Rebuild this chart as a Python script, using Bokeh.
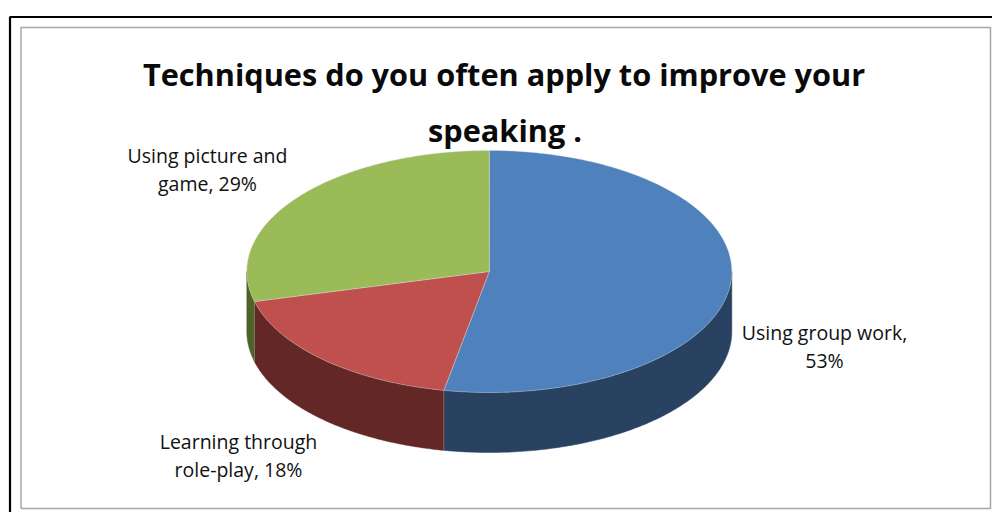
import numpy as np
from bokeh.plotting import figure
from bokeh.models import ColumnDataSource, Range1d
from bokeh.core.properties import value
from bokeh.embed import file_html
from bokeh.resources import INLINE

title_lines = ["Techniques do you often apply to improve your", "speaking ."]
categories = ["Using group work", "Learning through role-play", "Using picture and game"]
percents = [53, 18, 29]
top_colors = ["#4F81BD", "#C0504D", "#9BBB59"]
side_colors = ["#2A4261", "#632826", "#4F6228"]
label_lines = [["Using group work,", "53%"], ["Learning through", "role-play, 18%"], ["Using picture and", "game, 29%"]]

CX, CY, RX, RY, DEPTH = 488.8, 271, 242.5, 121, 60
label_pos = [(824, 332), (238, 441), (207, 155)]
LINE_GAP = 28

W, H = 992, 512
p = figure(width=W, height=H, x_range=Range1d(0, W), y_range=Range1d(H, 0),
           output_backend="svg", toolbar_location=None, min_border=0)
p.axis.visible = False
p.grid.visible = False
p.outline_line_color = None
p.background_fill_color = "white"
p.border_fill_color = "white"

# frames
p.line([9.5, 9.5, 992], [512, 16.5, 16.5], line_color="black", line_width=2.2)
p.line([20.5, 20.5, 990, 990, 20.5], [508, 27, 27, 508, 508], line_color="#A6A6A6", line_width=1.5)

def ex(t):
    return CX + RX * np.sin(t)
def ey(t):
    return CY - RY * np.cos(t)

edges = np.cumsum([0] + percents) / sum(percents) * 2 * np.pi

# side walls: only the front half of the rim (90 to 270 degrees) is visible
sx, sy, sc = [], [], []
for a, b, c in zip(edges[:-1], edges[1:], side_colors):
    lo, hi = max(a, np.pi / 2), min(b, 3 * np.pi / 2)
    if hi <= lo:
        continue
    t = np.linspace(lo, hi, 120)
    sx.append(np.r_[ex(t), ex(t)[::-1]])
    sy.append(np.r_[ey(t), ey(t)[::-1] + DEPTH])
    sc.append(c)
p.patches(sx, sy, fill_color=sc, line_color=sc, line_width=0.5)

# seam between side walls
for e in edges[1:-1]:
    if np.pi / 2 < e < 3 * np.pi / 2:
        p.line([ex(e), ex(e)], [ey(e), ey(e) + DEPTH], line_color="#A08A88", line_width=0.8, line_alpha=0.7)

# top faces
tx, ty = [], []
for a, b in zip(edges[:-1], edges[1:]):
    t = np.linspace(a, b, 240)
    tx.append(np.r_[CX, ex(t)])
    ty.append(np.r_[CY, ey(t)])
p.patches(tx, ty, fill_color=top_colors, line_color="#D8DCE6", line_width=0.6, line_alpha=0.6)

title_src = ColumnDataSource(dict(x=[503.5, 504.5], y=[73, 129], text=title_lines))
p.text("x", "y", text="text", source=title_src, text_font=value("Open Sans"), text_font_style="bold",
       text_font_size="30.7px", text_color="#0A0A0A", text_align="center", text_baseline="middle")

lx, ly, lt = [], [], []
for (x, y), lines in zip(label_pos, label_lines):
    for i, s in enumerate(lines):
        lx.append(x)
        ly.append(y + i * LINE_GAP)
        lt.append(s)
p.text(lx, ly, text=lt, text_font=value("Open Sans"), text_font_size="19.5px", text_color="#111111",
       text_align="center", text_baseline="middle")

open("out.html", "w").write(file_html(p, INLINE))
